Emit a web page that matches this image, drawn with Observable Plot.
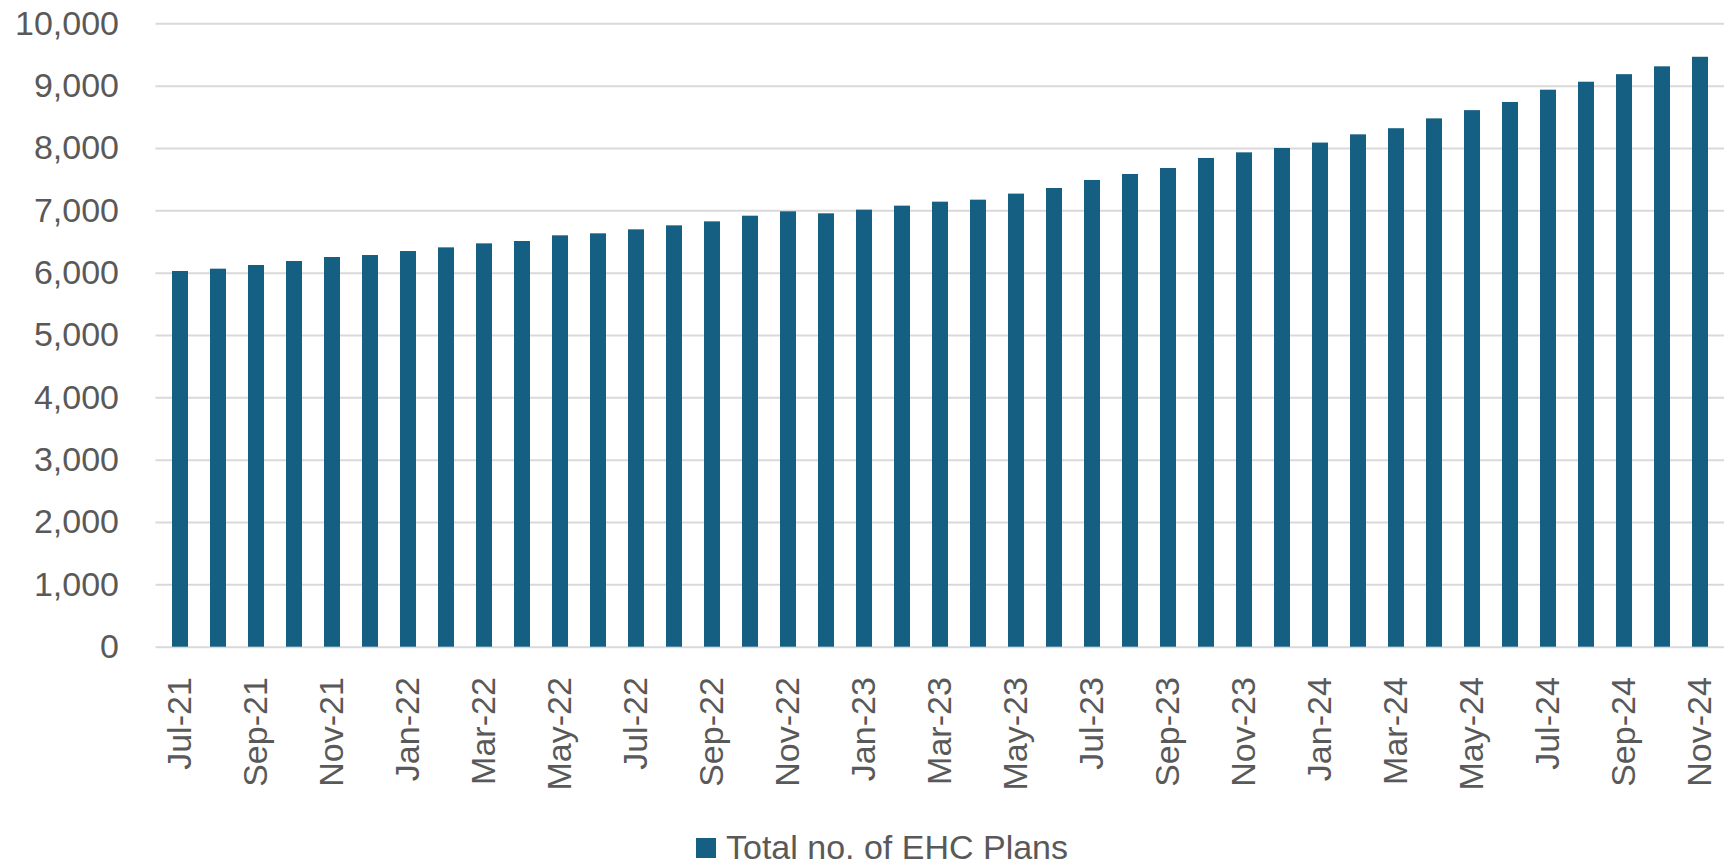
<!DOCTYPE html>
<html>
<head>
<meta charset="utf-8">
<script src="https://cdn.jsdelivr.net/npm/d3@7"></script>
<script src="https://cdn.jsdelivr.net/npm/@observablehq/plot@0.6"></script>
<style>
  html, body { margin: 0; padding: 0; background: #fff; }
  #chart { width: 1728px; }
  .legend {
    width: 1728px; height: 39px; display: flex; justify-content: center; align-items: center;
    font-family: "Liberation Sans", Arial, sans-serif; font-size: 34px; color: #595959;
    margin-left: 18px;
  }
  .legend .sw { width: 20px; height: 20px; background: #156082; margin-right: 10px; }
</style>
</head>
<body>
<div id="chart"></div>
<script>
const months = [
  "Jul-21","Aug-21","Sep-21","Oct-21","Nov-21","Dec-21",
  "Jan-22","Feb-22","Mar-22","Apr-22","May-22","Jun-22","Jul-22","Aug-22","Sep-22","Oct-22","Nov-22","Dec-22",
  "Jan-23","Feb-23","Mar-23","Apr-23","May-23","Jun-23","Jul-23","Aug-23","Sep-23","Oct-23","Nov-23","Dec-23",
  "Jan-24","Feb-24","Mar-24","Apr-24","May-24","Jun-24","Jul-24","Aug-24","Sep-24","Oct-24","Nov-24"
];
const plans = [
  6027, 6064, 6123, 6187, 6251, 6283,
  6347, 6406, 6470, 6508, 6599, 6631, 6695, 6759, 6823, 6914, 6984, 6952,
  7011, 7075, 7139, 7171, 7268, 7358, 7487, 7583, 7679, 7840, 7930, 8000,
  8087, 8219, 8317, 8475, 8607, 8738, 8935, 9063, 9184, 9310, 9463
];
const xTickLabels = months.filter((m, i) => i % 2 === 0);
const yTicks = [0, 1000, 2000, 3000, 4000, 5000, 6000, 7000, 8000, 9000, 10000];
const seriesName = "Total no. of EHC Plans";

const data = months.map((m, i) => ({month: m, value: plans[i]}));

const chart = Plot.plot({
  width: 1728,
  height: 828,
  marginLeft: 155.5,
  marginRight: 4,
  marginTop: 23.3,
  marginBottom: 181.3,
  style: {fontFamily: "Liberation Sans, Arial, sans-serif", fontSize: "34px", color: "#595959", background: "#fff"},
  x: {domain: months, paddingInner: 0.58, paddingOuter: 0.29, label: null},
  y: {domain: [0, 10000], label: null},
  marks: [
    Plot.gridY(yTicks, {stroke: "#d9d9d9", strokeOpacity: 1, strokeWidth: 2}),
    Plot.barY(data, {x: "month", y: "value", fill: "#156082"}),
    Plot.axisY(yTicks, {tickSize: 0, tickPadding: 37, tickFormat: d3.format(","), fill: "#595959", label: null}),
    Plot.axisX(xTickLabels, {tickSize: 0, tickPadding: 30, tickRotate: -90, fill: "#595959", label: null})
  ]
});
document.getElementById("chart").appendChild(chart);

const legend = document.createElement("div");
legend.className = "legend";
legend.innerHTML = `<span class="sw"></span><span>${seriesName}</span>`;
document.body.appendChild(legend);
</script>
</body>
</html>
